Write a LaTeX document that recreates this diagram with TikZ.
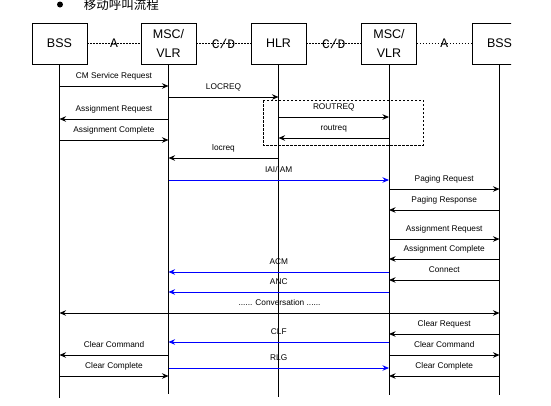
\documentclass[tikz,border=0pt]{standalone}
\usepackage{fontspec}
\setmainfont{Liberation Sans}
\newfontfamily\cjk{Noto Sans CJK SC}
\newfontfamily\ifont{Liberation Mono}
\usetikzlibrary{arrows.meta}

\begin{document}
\begin{tikzpicture}[%
    x=1pt, y=-1pt,
    >={Stealth[length=6.5pt,width=5.5pt]},
    line width=0.9pt,
    entity/.style={draw, minimum width=55pt, minimum height=41pt, align=center,
      font=\fontsize{12.5}{19}\selectfont},
    iface/.style={dash pattern=on 1.5pt off 1.5pt},
    ifname/.style={inner sep=0pt, font=\ifont\fontsize{13}{13}\selectfont},
    lbl/.style={anchor=base, yshift=8pt, inner sep=0pt, font=\fontsize{8.3}{9}\selectfont},
    voice/.style={blue}
  ]
    \useasboundingbox (0,0) rectangle (551,405);
    \clip (0,0) rectangle (511,405);

    \node[circle, fill, inner sep=0pt, minimum size=6pt] (dot) at (60,4.5) {};
    \node[anchor=west, font=\cjk\fontsize{12.5}{13}\selectfont] (title) at (80,5) {移动呼叫流程};

    \node[entity] (bssA) at (59.5,43.5)  {BSS};
    \node[entity] (mscA) at (168.5,43.5) {MSC/\\VLR};
    \node[entity] (hlr)  at (278.5,43.5) {HLR};
    \node[entity] (mscB) at (389,43.5)   {MSC/\\VLR};
    \node[entity] (bssB) at (499.5,43.5) {BSS};

    \coordinate (bssA-end) at (bssA |- 0,398);
    \coordinate (mscA-end) at (mscA |- 0,394);
    \coordinate (hlr-end)  at (hlr  |- 0,397);
    \coordinate (mscB-end) at (mscB |- 0,395);
    \coordinate (bssB-end) at (bssB |- 0,395);

    \draw (bssA) -- (bssA-end)
          (mscA) -- (mscA-end)
          (hlr)  -- (hlr-end)
          (mscB) -- (mscB-end)
          (bssB) -- (bssB-end);

    \path[iface] (bssA) edge node[ifname] {A}   (mscA)
                 (mscA) edge node[ifname] {C/D} (hlr)
                 (hlr)  edge node[ifname] {C/D} (mscB)
                 (mscB) edge node[ifname] {A}   (bssB);

    \draw[line width=0.8pt, dash pattern=on 2.5pt off 1.5pt] (263,100) rectangle (423,145);

    \path[->] (bssA |- 0,86)  edge node[lbl] {CM Service Request}  (mscA |- 0,86)
              (mscA |- 0,97)  edge node[lbl] {LOCREQ}              (hlr  |- 0,97)
              (mscA |- 0,119) edge node[lbl] {Assignment Request}  (bssA |- 0,119)
              (bssA |- 0,140) edge node[lbl] {Assignment Complete} (mscA |- 0,140)
              (hlr  |- 0,117) edge node[lbl] {ROUTREQ}             (mscB |- 0,117)
              (mscB |- 0,138) edge node[lbl] {routreq}             (hlr  |- 0,138)
              (hlr  |- 0,158) edge node[lbl] {locreq}              (mscA |- 0,158)
              (mscB |- 0,189) edge node[lbl] {Paging Request}      (bssB |- 0,189)
              (bssB |- 0,210) edge node[lbl] {Paging Response}     (mscB |- 0,210)
              (mscB |- 0,239) edge node[lbl] {Assignment Request}  (bssB |- 0,239)
              (bssB |- 0,259) edge node[lbl] {Assignment Complete} (mscB |- 0,259)
              (bssB |- 0,280) edge node[lbl] {Connect}             (mscB |- 0,280)
              (bssA |- 0,313) edge [<->] node[lbl] {...... Conversation ......} (bssB |- 0,313)
              (bssB |- 0,334) edge node[lbl] {Clear Request}       (mscB |- 0,334)
              (mscA |- 0,355) edge node[lbl] {Clear Command}       (bssA |- 0,355)
              (mscB |- 0,355) edge node[lbl] {Clear Command}       (bssB |- 0,355)
              (bssA |- 0,376) edge node[lbl] {Clear Complete}      (mscA |- 0,376)
              (bssB |- 0,376) edge node[lbl] {Clear Complete}      (mscB |- 0,376);

    \path[->, voice]
              (mscA |- 0,180) edge node[lbl, black] {IAI/IAM} (mscB |- 0,180)
              (mscB |- 0,272) edge node[lbl, black] {ACM}     (mscA |- 0,272)
              (mscB |- 0,292) edge node[lbl, black] {ANC}     (mscA |- 0,292)
              (mscB |- 0,342) edge node[lbl, black] {CLF}     (mscA |- 0,342)
              (mscA |- 0,368) edge node[lbl, black] {RLG}     (mscB |- 0,368);
  \end{tikzpicture}
\end{document}
